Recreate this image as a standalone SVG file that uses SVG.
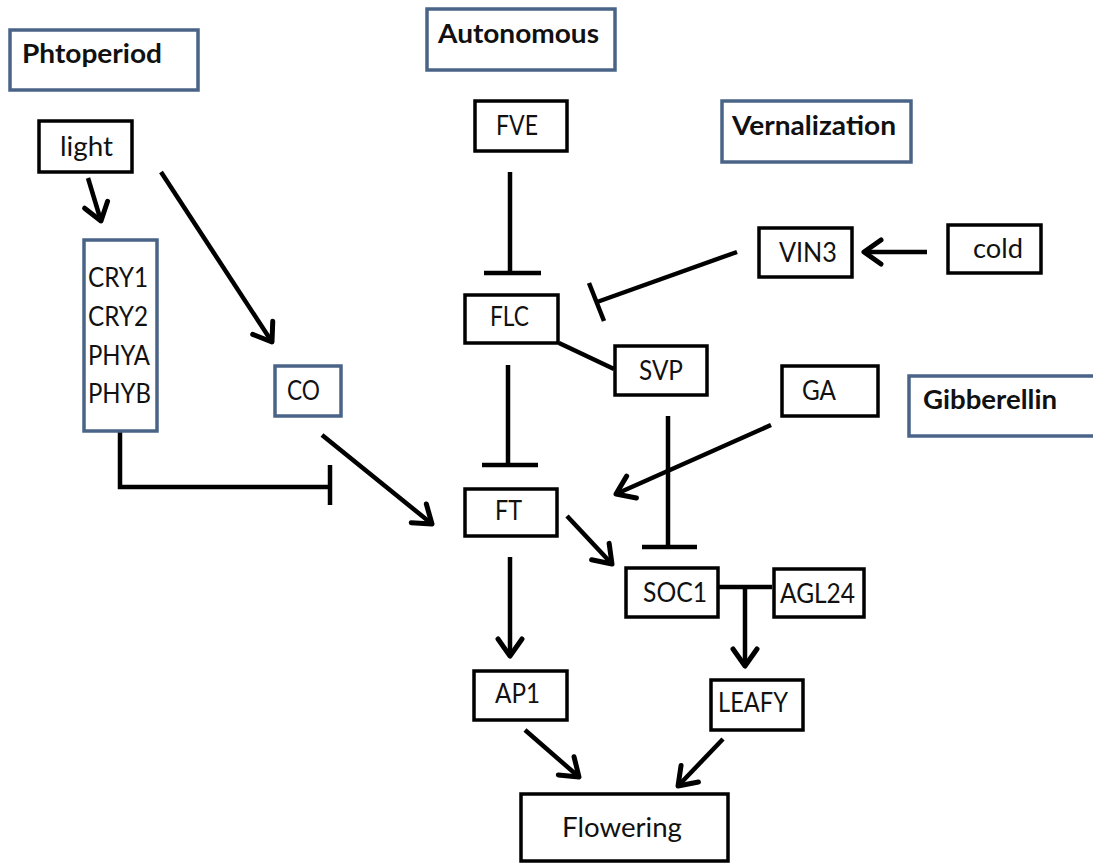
<svg xmlns="http://www.w3.org/2000/svg" width="1093" height="865" viewBox="0 0 1093 865">
<style>
.bk{fill:#fff;stroke:#000;stroke-width:3.5}
.bl{fill:#fff;stroke:#4a6488;stroke-width:3.5}
.t{font-family:Lato,"Open Sans","Liberation Sans",sans-serif;font-size:27px;fill:#111}
.h{font-family:Lato,"Open Sans","Liberation Sans",sans-serif;font-size:27px;font-weight:bold;fill:#111}
.c{stroke:#000;stroke-width:4.5;fill:none}
.a{marker-end:url(#arr)}
</style>
<defs>
<marker id="arr" markerUnits="userSpaceOnUse" viewBox="-24 -18 28 36" refX="0" refY="0" markerWidth="28" markerHeight="36" orient="auto">
<path d="M-17,-12 L0,0 L-17,12" fill="none" stroke="#000" stroke-width="5" stroke-linecap="round" stroke-linejoin="round"/>
</marker>
</defs>
<rect width="1093" height="865" fill="#fff"/>
<g id="connectors">
<line class="c a" x1="88" y1="178" x2="101" y2="221"/>
<line class="c a" x1="161" y1="172" x2="272" y2="342"/>
<path class="c" d="M120,430 V487 H330"/>
<line class="c" x1="330" y1="465" x2="330" y2="505"/>
<line class="c a" x1="322" y1="435" x2="432" y2="524"/>
<line class="c" x1="510" y1="172" x2="510" y2="273"/>
<line class="c" x1="484" y1="273" x2="541" y2="273"/>
<line class="c" x1="737" y1="252" x2="597" y2="302"/>
<line class="c" x1="589" y1="283" x2="604" y2="321"/>
<line class="c a" x1="927" y1="252" x2="864" y2="252"/>
<line class="c" x1="559" y1="343" x2="614" y2="369"/>
<line class="c" x1="508" y1="365" x2="508" y2="465"/>
<line class="c" x1="482" y1="465" x2="538" y2="465"/>
<line class="c a" x1="771" y1="425" x2="616" y2="494"/>
<line class="c" x1="668" y1="416" x2="668" y2="547"/>
<line class="c" x1="642" y1="547" x2="697" y2="547"/>
<line class="c a" x1="567" y1="516" x2="612" y2="564"/>
<line class="c" x1="719" y1="587" x2="772" y2="587"/>
<line class="c a" x1="745" y1="587" x2="745" y2="666"/>
<line class="c a" x1="510" y1="557" x2="510" y2="656"/>
<line class="c a" x1="525" y1="730" x2="579" y2="777"/>
<line class="c a" x1="723" y1="739" x2="678" y2="786"/>
</g>
<g id="phtoperiod"><rect class="bl" x="10" y="30" width="188" height="60"/><text class="h" x="22" y="63" textLength="140" lengthAdjust="spacingAndGlyphs">Phtoperiod</text></g>
<g id="light"><rect class="bk" x="39" y="121" width="93" height="51"/><text class="t" x="60" y="156" textLength="53" lengthAdjust="spacingAndGlyphs">light</text></g>
<g id="photoreceptors"><rect class="bl" x="84" y="240" width="73" height="191"/>
<text class="t" x="88" y="287" textLength="60" lengthAdjust="spacingAndGlyphs">CRY1</text>
<text class="t" x="88" y="326" textLength="60" lengthAdjust="spacingAndGlyphs">CRY2</text>
<text class="t" x="88" y="365" textLength="62" lengthAdjust="spacingAndGlyphs">PHYA</text>
<text class="t" x="88" y="403" textLength="63" lengthAdjust="spacingAndGlyphs">PHYB</text></g>
<g id="co"><rect class="bl" x="275" y="366" width="66" height="50"/><text class="t" x="287" y="400" textLength="33" lengthAdjust="spacingAndGlyphs">CO</text></g>
<g id="autonomous"><rect class="bl" x="427" y="9" width="188" height="61"/><text class="h" x="438" y="43" textLength="161" lengthAdjust="spacingAndGlyphs">Autonomous</text></g>
<g id="fve"><rect class="bk" x="475" y="101" width="92" height="50"/><text class="t" x="496" y="135" textLength="42" lengthAdjust="spacingAndGlyphs">FVE</text></g>
<g id="vernalization"><rect class="bl" x="722" y="101" width="189" height="61"/><text class="h" x="732" y="135" textLength="164" lengthAdjust="spacingAndGlyphs">Vernalization</text></g>
<g id="vin3"><rect class="bk" x="759" y="228" width="93" height="49"/><text class="t" x="779" y="262" textLength="58" lengthAdjust="spacingAndGlyphs">VIN3</text></g>
<g id="cold"><rect class="bk" x="948" y="225" width="93" height="48"/><text class="t" x="973" y="258" textLength="50" lengthAdjust="spacingAndGlyphs">cold</text></g>
<g id="flc"><rect class="bk" x="465" y="295" width="93" height="48"/><text class="t" x="490" y="326" textLength="39" lengthAdjust="spacingAndGlyphs">FLC</text></g>
<g id="svp"><rect class="bk" x="615" y="346" width="92" height="49"/><text class="t" x="639" y="380" textLength="44" lengthAdjust="spacingAndGlyphs">SVP</text></g>
<g id="ga"><rect class="bk" x="782" y="366" width="96" height="50"/><text class="t" x="802" y="400" textLength="34" lengthAdjust="spacingAndGlyphs">GA</text></g>
<g id="gibberellin"><rect class="bl" x="909" y="376" width="195" height="60"/><text class="h" x="923" y="409" textLength="134" lengthAdjust="spacingAndGlyphs">Gibberellin</text></g>
<g id="ft"><rect class="bk" x="465" y="489" width="92" height="47"/><text class="t" x="495" y="520" textLength="27" lengthAdjust="spacingAndGlyphs">FT</text></g>
<g id="soc1"><rect class="bk" x="626" y="568" width="92" height="49"/><text class="t" x="643" y="602" textLength="64" lengthAdjust="spacingAndGlyphs">SOC1</text></g>
<g id="agl24"><rect class="bk" x="774" y="569" width="90" height="48"/><text class="t" x="780" y="603" textLength="75" lengthAdjust="spacingAndGlyphs">AGL24</text></g>
<g id="ap1"><rect class="bk" x="474" y="671" width="93" height="49"/><text class="t" x="495" y="703" textLength="45" lengthAdjust="spacingAndGlyphs">AP1</text></g>
<g id="leafy"><rect class="bk" x="711" y="680" width="92" height="50"/><text class="t" x="718" y="712" textLength="70" lengthAdjust="spacingAndGlyphs">LEAFY</text></g>
<g id="flowering"><rect class="bk" x="521" y="794" width="207" height="67"/><text class="t" x="562" y="837" textLength="120" lengthAdjust="spacingAndGlyphs">Flowering</text></g>
</svg>
